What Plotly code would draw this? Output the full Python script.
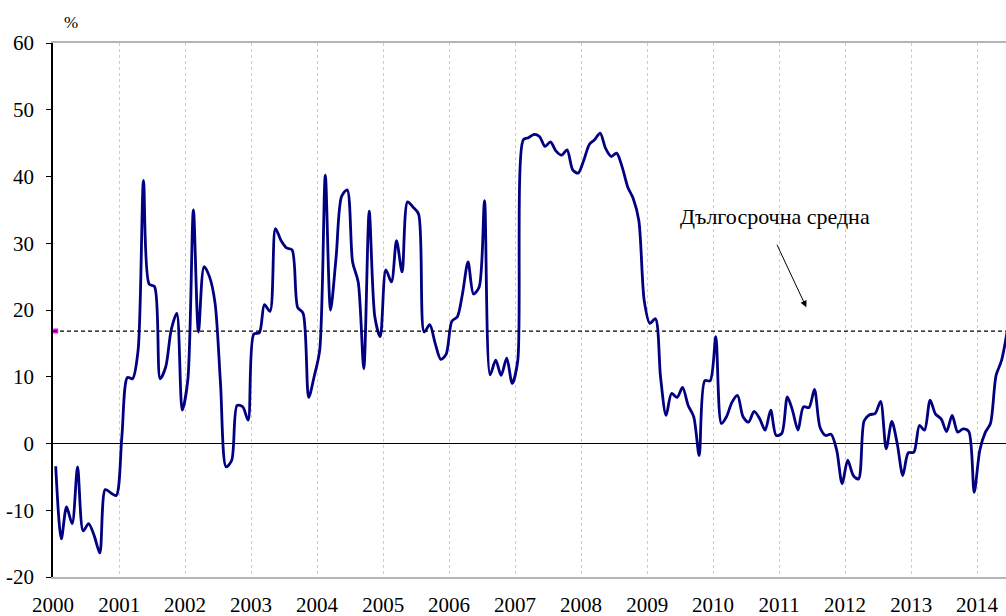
import pandas as pd
import plotly.graph_objects as go

# Monthly values, Jan 2000 - Jun 2014 (%)
values_2000 = [-3.4, -14.3, -9.5, -12.0, -3.5, -13.1, -12.0, -13.8, -16.4, -6.9, -7.4, -7.8]
values_2001 = [1.0, 9.9, 9.7, 14.0, 39.4, 23.9, 23.5, 9.7, 11.5, 17.0, 19.5, 5.0]
values_2002 = [9.5, 35.0, 16.7, 26.5, 25.0, 21.0, 9.0, -3.5, -2.5, 5.7, 5.5, 3.5]
values_2003 = [16.4, 16.6, 20.8, 19.8, 32.2, 30.4, 29.3, 29.0, 20.4, 19.5, 6.9, 10.0]
values_2004 = [14.0, 40.2, 20.0, 28.0, 37.0, 38.0, 27.2, 24.2, 11.2, 34.8, 19.0, 16.0]
values_2005 = [26.0, 24.2, 30.4, 25.7, 36.2, 35.4, 34.4, 16.7, 17.8, 15.0, 12.6, 13.4]
values_2006 = [18.3, 19.0, 22.4, 27.2, 22.4, 23.4, 36.4, 10.3, 12.5, 10.2, 12.8, 9.0]
values_2007 = [12.4, 45.5, 45.8, 46.3, 46.0, 44.5, 45.2, 43.8, 43.2, 44.0, 41.0, 40.5]
values_2008 = [42.4, 44.8, 45.5, 46.5, 44.2, 43.0, 43.5, 41.4, 38.4, 36.7, 33.4, 21.4]
values_2009 = [18.0, 18.7, 10.0, 4.2, 7.5, 6.9, 8.4, 5.7, 4.0, -1.8, 9.4, 9.4]
values_2010 = [16.0, 3.0, 4.0, 6.2, 7.2, 4.0, 3.2, 4.8, 3.7, 2.0, 5.0, 1.2]
values_2011 = [1.5, 7.0, 5.0, 2.0, 5.5, 5.4, 8.1, 2.4, 1.2, 1.4, -1.0, -6.0]
values_2012 = [-2.5, -4.8, -5.3, 3.4, 4.3, 4.5, 6.3, -0.8, 3.3, 0.0, -4.8, -1.4]
values_2013 = [-1.3, 2.7, 2.0, 6.5, 4.4, 3.7, 1.8, 4.2, 1.7, 2.2, 1.8, -7.3]
values_2014 = [-1.0, 1.7, 3.0, 10.2, 12.4, 16.7]

long_term_average = 16.85
average_label = "Дългосрочна средна"
unit_label = "%"

years = list(range(2000, 2015))
year_labels = [str(y) for y in years]
y_tick_values = [-20, -10, 0, 10, 20, 30, 40, 50, 60]
y_tick_labels = ["-20", "-10", "0", "10", "20", "30", "40", "50", "60"]

values = (values_2000 + values_2001 + values_2002 + values_2003 + values_2004 +
          values_2005 + values_2006 + values_2007 + values_2008 + values_2009 +
          values_2010 + values_2011 + values_2012 + values_2013 + values_2014)
months = pd.date_range("2000-01-01", periods=len(values), freq="MS") + pd.Timedelta(days=15)

SERIF = "Liberation Serif, Times New Roman, serif"

fig = go.Figure()
fig.add_trace(go.Scatter(
    x=months, y=values, mode="lines",
    line=dict(color="#000080", width=2.8, shape="spline", smoothing=0.8),
    showlegend=False, hoverinfo="skip",
))
fig.add_trace(go.Scatter(
    x=[months[0]], y=[long_term_average], mode="markers",
    marker=dict(symbol="square", size=5, color="#ff00ff"),
    showlegend=False, hoverinfo="skip",
))

fig.add_shape(type="line", xref="paper", x0=0, x1=1, yref="y",
              y0=long_term_average, y1=long_term_average,
              line=dict(color="#000000", width=1.2, dash="4px,3px"))

fig.add_annotation(x="2011-06-01", y=20.4, ax=-30, ay=-64, axref="pixel", ayref="pixel",
                   text="", showarrow=True, arrowhead=2, arrowsize=1.3, arrowwidth=1,
                   arrowcolor="#000000")
fig.add_annotation(x="2010-12-10", y=34.0, text=average_label, showarrow=False,
                   font=dict(family=SERIF, size=22, color="#000000"))
fig.add_annotation(xref="paper", yref="paper", x=0.019, y=1.039, text=unit_label,
                   xanchor="center", yanchor="middle",
                   showarrow=False, font=dict(family=SERIF, size=17, color="#000000"))

fig.update_xaxes(
    type="date", range=["2000-01-01", "2014-06-10"],
    tickvals=[f"{y}-01-01" for y in years], ticktext=year_labels,
    showgrid=True, gridcolor="#cccccc", griddash="3px,3px", gridwidth=1,
    showline=True, linecolor="#b4b4b4", linewidth=2, mirror=True,
    ticks="", ticklabelstandoff=8, automargin=False,
    tickfont=dict(family=SERIF, size=21, color="#000000"),
    zeroline=False,
)
fig.update_yaxes(
    range=[-20, 60], tickvals=y_tick_values, ticktext=y_tick_labels,
    showgrid=False, zeroline=True, zerolinecolor="#000000", zerolinewidth=1,
    showline=True, linecolor="#000000", linewidth=1.5,
    ticks="outside", ticklen=5, tickcolor="#000000", ticklabelstandoff=8,
    automargin=False,
    tickfont=dict(family=SERIF, size=21, color="#000000"),
)
fig.update_layout(
    width=1006, height=616,
    margin=dict(l=53, r=0, t=43, b=39),
    plot_bgcolor="#ffffff", paper_bgcolor="#ffffff",
)
fig.write_html("out.html", config={"displayModeBar": False},
               post_script="document.body.style.margin='0';document.body.style.overflow='hidden';")
